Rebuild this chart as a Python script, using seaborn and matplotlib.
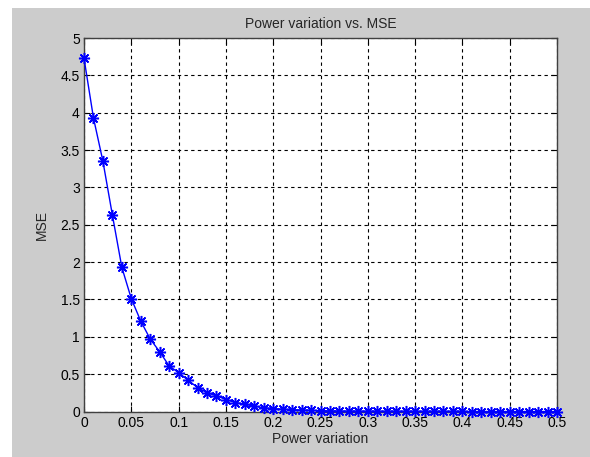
import numpy as np
import pandas as pd
import matplotlib
matplotlib.use("Agg")
import matplotlib.pyplot as plt
import seaborn as sns
from matplotlib.patches import Rectangle

power_variation = [round(0.01 * i, 2) for i in range(51)]
mse = [4.73, 3.93, 3.35, 2.63, 1.93, 1.51, 1.21, 0.97, 0.80, 0.61,
       0.52, 0.42, 0.32, 0.25, 0.21, 0.16, 0.12, 0.10, 0.07, 0.05,
       0.04, 0.03, 0.025, 0.02, 0.015, 0.012, 0.008, 0.006, 0.005, 0.004,
       0.003, 0.003, 0.002, 0.002, 0.002, 0.001, 0.001, 0.001, 0.001, 0.001,
       0.001, 0.0, 0.0, 0.0, 0.0, 0.0, 0.0, 0.0, 0.0, 0.0, 0.0]
x_ticks = [0, 0.05, 0.1, 0.15, 0.2, 0.25, 0.3, 0.35, 0.4, 0.45, 0.5]
x_tick_labels = ["0", "0.05", "0.1", "0.15", "0.2", "0.25", "0.3", "0.35", "0.4", "0.45", "0.5"]
y_ticks = [0, 0.5, 1, 1.5, 2, 2.5, 3, 3.5, 4, 4.5, 5]
y_tick_labels = ["0", "0.5", "1", "1.5", "2", "2.5", "3", "3.5", "4", "4.5", "5"]

df = pd.DataFrame({"Power variation": power_variation, "MSE": mse})

sns.set_style("white")
plt.rcParams['font.family'] = ['Liberation Sans', 'DejaVu Sans']

fig = plt.figure(figsize=(5.90, 4.57), dpi=100, facecolor="white")
fig.patches.append(Rectangle((12 / 590, 0), 1 - 12 / 590, 1 - 8 / 457,
                             transform=fig.transFigure, facecolor="#cccccc",
                             edgecolor="none", zorder=-10))
ax = fig.add_axes([84 / 590, (457 - 411.5) / 457, (557 - 84) / 590, (411.5 - 38) / 457])
ax.set_facecolor("white")

sns.lineplot(data=df, x="Power variation", y="MSE", ax=ax, color="blue",
             marker=(8, 2, 0), markersize=8, markeredgecolor="blue",
             markeredgewidth=1.1, linewidth=1, clip_on=False, zorder=5)

ax.set_xlim(0, 0.5)
ax.set_ylim(0, 5)
ax.set_xticks(x_ticks)
ax.set_xticklabels(x_tick_labels)
ax.set_yticks(y_ticks)
ax.set_yticklabels(y_tick_labels)
ax.grid(True, linestyle=(0, (3, 3)), color="black", linewidth=0.8)
ax.tick_params(direction="in", length=4, labelsize=10, colors="black", pad=3,
               top=True, right=True, bottom=True, left=True)
for s in ax.spines.values():
    s.set_color("#404040")
    s.set_linewidth(1.0)
    s.set_visible(True)

ax.set_xlabel("Power variation", fontsize=10, labelpad=2)
ax.set_ylabel("MSE", fontsize=10, labelpad=8)
ax.set_title("Power variation vs. MSE", fontsize=10, pad=7)

fig.savefig("out.png", dpi=100, facecolor=fig.get_facecolor())
